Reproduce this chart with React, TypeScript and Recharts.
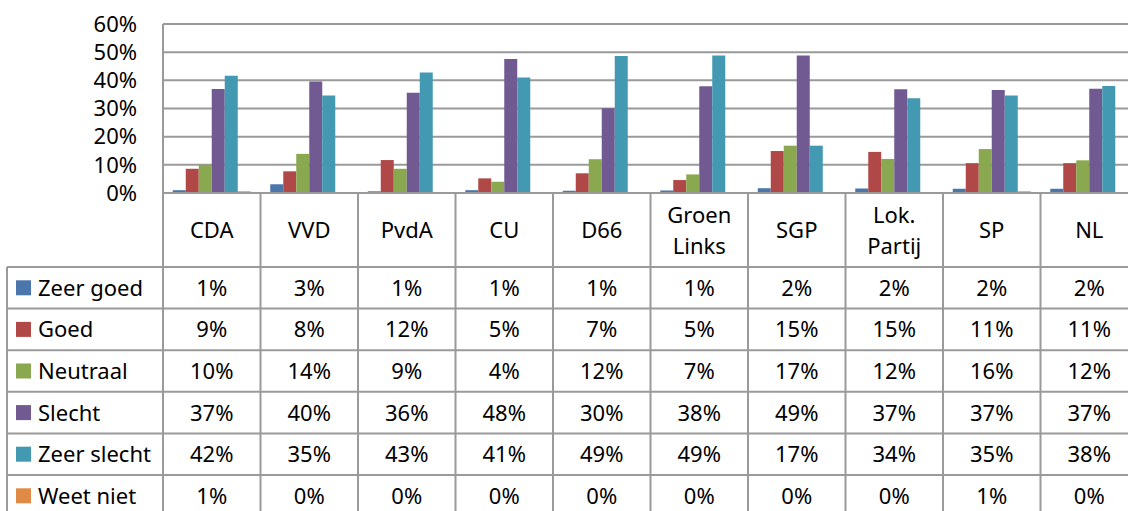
import { BarChart, Bar, XAxis, YAxis, CartesianGrid } from "recharts";

const categories = ["CDA", "VVD", "PvdA", "CU", "D66", "Groen Links", "SGP", "Lok. Partij", "SP", "NL"];
const zeerGoed = [1.0, 3.1, 0.6, 1.0, 0.8, 0.9, 1.7, 1.6, 1.5, 1.5];
const goed = [8.6, 7.7, 11.7, 5.2, 7.0, 4.6, 14.9, 14.6, 10.6, 10.6];
const neutraal = [10.0, 13.9, 8.6, 4.0, 12.0, 6.6, 16.8, 12.1, 15.6, 11.6];
const slecht = [36.9, 39.6, 35.6, 47.6, 30.1, 37.9, 48.8, 36.8, 36.6, 37.0];
const zeerSlecht = [41.6, 34.6, 42.8, 41.0, 48.6, 48.8, 16.8, 33.6, 34.6, 38.0];
const weetNiet = [0.6, 0, 0, 0, 0.3, 0, 0, 0.2, 0.6, 0.2];
const yTicks = [0, 10, 20, 30, 40, 50, 60];

const series = [
  { key: "zeerGoed", name: "Zeer goed", values: zeerGoed, color: "#4a76ac" },
  { key: "goed", name: "Goed", values: goed, color: "#b04848" },
  { key: "neutraal", name: "Neutraal", values: neutraal, color: "#8aa84f" },
  { key: "slecht", name: "Slecht", values: slecht, color: "#715a91" },
  { key: "zeerSlecht", name: "Zeer slecht", values: zeerSlecht, color: "#4299b1" },
  { key: "weetNiet", name: "Weet niet", values: weetNiet, color: "#e08a48" },
];

const data = categories.map((name, i) => {
  const row: Record<string, string | number> = { name };
  series.forEach((s) => (row[s.key] = s.values[i]));
  return row;
});

const W = 1140;
const H = 511;
const PLOT_LEFT = 163;
const PLOT_RIGHT = 1138;
const PLOT_TOP = 24;
const PLOT_BOTTOM = 193;
const HEADER_BOTTOM = 267;
const ROW_H = 41.6;
const TABLE_LEFT = 7;
const BAND = (PLOT_RIGHT - PLOT_LEFT) / categories.length;
const LINE = "#9a9a9a";
const FONT = "'Noto Sans', 'Open Sans', sans-serif";
const FS = 22;
const DY = 8; // baseline shift to centre digits/caps on a row

function ColumnTick({ x, payload }: any) {
  const i = categories.indexOf(payload.value);
  const lines = String(payload.value).split(" ");
  const mid = (PLOT_BOTTOM + HEADER_BOTTOM) / 2;
  return (
    <g fontFamily={FONT} fontSize={FS} fill="#000">
      <line x1={x - BAND / 2} x2={x - BAND / 2} y1={PLOT_BOTTOM} y2={H} stroke={LINE} strokeWidth={2} />
      {lines.map((l, k) => (
        <text key={k} x={x} y={mid + (k - (lines.length - 1) / 2) * 31 + DY} textAnchor="middle">
          {l}
        </text>
      ))}
      {series.map((s, r) => (
        <text key={s.key} x={x} y={HEADER_BOTTOM + ROW_H * (r + 0.5) + DY} textAnchor="middle">
          {Math.round(s.values[i])}%
        </text>
      ))}
    </g>
  );
}

export default function App() {
  return (
    <div style={{ position: "absolute", left: 0, top: 0, width: 1128, height: 511, overflow: "hidden", background: "#fff" }}>
      <BarChart
        width={W}
        height={H}
        data={data}
        margin={{ top: PLOT_TOP, right: W - PLOT_RIGHT, left: 0, bottom: 0 }}
        barCategoryGap="10%"
        barGap={0}
      >
        <CartesianGrid vertical={false} stroke={LINE} strokeWidth={2} />
        <XAxis
          dataKey="name"
          interval={0}
          height={H - PLOT_BOTTOM}
          axisLine={{ stroke: LINE, strokeWidth: 2 }}
          tickLine={false}
          tick={<ColumnTick />}
        />
        <YAxis
          width={PLOT_LEFT}
          domain={[0, 60]}
          ticks={yTicks}
          interval={0}
          tickFormatter={(v) => `${v}%`}
          axisLine={{ stroke: LINE, strokeWidth: 2 }}
          tickLine={false}
          tickSize={0}
          tickMargin={26}
          tick={{ fontFamily: FONT, fontSize: FS, fill: "#000" }}
        />
        {series.map((s) => (
          <Bar key={s.key} dataKey={s.key} name={s.name} fill={s.color} isAnimationActive={false} />
        ))}
      </BarChart>
      <svg width={W} height={H} style={{ position: "absolute", left: 0, top: 0, pointerEvents: "none" }}>
        <line x1={PLOT_LEFT} x2={PLOT_LEFT} y1={PLOT_BOTTOM} y2={H} stroke={LINE} strokeWidth={2} />
        <line x1={TABLE_LEFT} x2={TABLE_LEFT} y1={HEADER_BOTTOM} y2={H} stroke={LINE} strokeWidth={2} />
        {series.map((s, r) => (
          <line key={s.key} x1={TABLE_LEFT} x2={W} y1={HEADER_BOTTOM + ROW_H * r} y2={HEADER_BOTTOM + ROW_H * r} stroke={LINE} strokeWidth={2} />
        ))}
        {series.map((s, r) => {
          const cy = HEADER_BOTTOM + ROW_H * (r + 0.5);
          return (
            <g key={s.key}>
              <rect x={16} y={cy - 7.5} width={15} height={15} fill={s.color} />
              <text x={38} y={cy + DY} fontFamily={FONT} fontSize={FS} fill="#000">
                {s.name}
              </text>
            </g>
          );
        })}
      </svg>
    </div>
  );
}
